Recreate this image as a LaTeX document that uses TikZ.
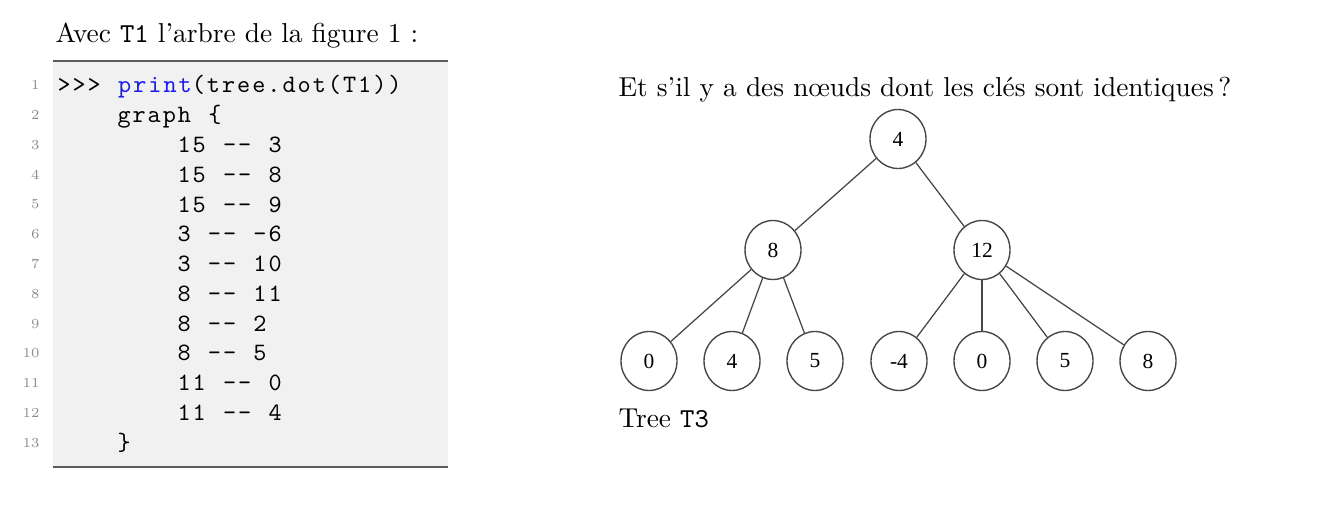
\documentclass[tikz,border=0pt]{standalone}
\usepackage{fontspec}
\usepackage{tikz}
\usetikzlibrary{shapes.geometric,positioning}
\newfontfamily\treefont{Liberation Serif}
\newfontfamily\codefont{lmmono10-regular}[Extension=.otf, LetterSpace=8, WordSpace=1.142857]
\definecolor{codebg}{gray}{0.945}
\definecolor{rulegray}{RGB}{90,90,90}
\definecolor{numgray}{RGB}{140,140,140}
\definecolor{codeblue}{RGB}{25,25,240}
\definecolor{treegray}{RGB}{70,70,70}

\begin{document}
\begin{tikzpicture}[x=0.4pt, y=-0.4pt,
    prose/.style={anchor=base west, inner sep=0pt, font=\fontsize{10.95}{13.6}\selectfont},
    lineno/.style={font=\fontsize{5.5}{6.5}\selectfont, text=numgray, anchor=base east, inner sep=0pt},
    codeline/.style={font=\codefont, anchor=base west, inner sep=0pt},
    keynode/.style={ellipse, draw=treegray, line width=0.55pt, minimum width=22.4pt,
                    minimum height=23.6pt, inner sep=0pt,
                    font=\treefont\fontsize{8.6}{10}\selectfont},
    edge/.style={draw=treegray, line width=0.5pt}
]
    \useasboundingbox (0,0) rectangle (1339,506);
    % left part: the listing
    \node[prose] (intro) at (55,43) {Avec \texttt{T1} l'arbre de la figure 1~:};
    \fill[codebg] (53,61) rectangle (448,467);
    \draw[rulegray, line width=0.8pt] (53,61) -- (448,61);
    \draw[rulegray, line width=0.9pt] (53,467) -- (448,467);
    \node[lineno] (n1) at (40,90) {1};
    \node[codeline] (c1) at (57,93) {>{}>{}> \textcolor{codeblue}{print}(tree.dot(T1))};
    \node[lineno] (n2) at (40,119.8) {2};
    \node[codeline] (c2) at (117,122.8) {graph \{};
    \node[lineno] (n3) at (40,149.5) {3};
    \node[codeline] (c3) at (177,152.5) {15 -{}- 3};
    \node[lineno] (n4) at (40,179.3) {4};
    \node[codeline] (c4) at (177,182.3) {15 -{}- 8};
    \node[lineno] (n5) at (40,209) {5};
    \node[codeline] (c5) at (177,212) {15 -{}- 9};
    \node[lineno] (n6) at (40,238.8) {6};
    \node[codeline] (c6) at (177,241.8) {3 -{}- -6};
    \node[lineno] (n7) at (40,268.5) {7};
    \node[codeline] (c7) at (177,271.5) {3 -{}- 10};
    \node[lineno] (n8) at (40,298.3) {8};
    \node[codeline] (c8) at (177,301.3) {8 -{}- 11};
    \node[lineno] (n9) at (40,328) {9};
    \node[codeline] (c9) at (177,331) {8 -{}- 2};
    \node[lineno] (n10) at (40,357.8) {10};
    \node[codeline] (c10) at (177,360.8) {8 -{}- 5};
    \node[lineno] (n11) at (40,387.5) {11};
    \node[codeline] (c11) at (177,390.5) {11 -{}- 0};
    \node[lineno] (n12) at (40,417.3) {12};
    \node[codeline] (c12) at (177,420.3) {11 -{}- 4};
    \node[lineno] (n13) at (40,447) {13};
    \node[codeline] (c13) at (117,450) {\}};
    % right part: the tree T3
    \node[prose] (question) at (618,97) {Et s'il y a des nœuds dont les clés sont identiques\,?};
    \node[keynode] (r) at (898,139) {4};
    \node[keynode] (a) at (773,250) {8};
    \node[keynode] (b) at (982,250) {12};
    \node[keynode] (a1) at (649,361) {0};
    \node[keynode] (a2) at (732,361) {4};
    \node[keynode] (a3) at (815,361) {5};
    \node[keynode] (b1) at (899,361) {-4};
    \node[keynode] (b2) at (982,361) {0};
    \node[keynode] (b3) at (1065,361) {5};
    \node[keynode] (b4) at (1148,361) {8};
    \draw[edge] (r) -- (a);
    \draw[edge] (r) -- (b);
    \draw[edge] (a) -- (a1);
    \draw[edge] (a) -- (a2);
    \draw[edge] (a) -- (a3);
    \draw[edge] (b) -- (b1);
    \draw[edge] (b) -- (b2);
    \draw[edge] (b) -- (b3);
    \draw[edge] (b) -- (b4);
    \node[prose] (caption) at (618,427) {Tree \texttt{T3}};
\end{tikzpicture}
\end{document}
